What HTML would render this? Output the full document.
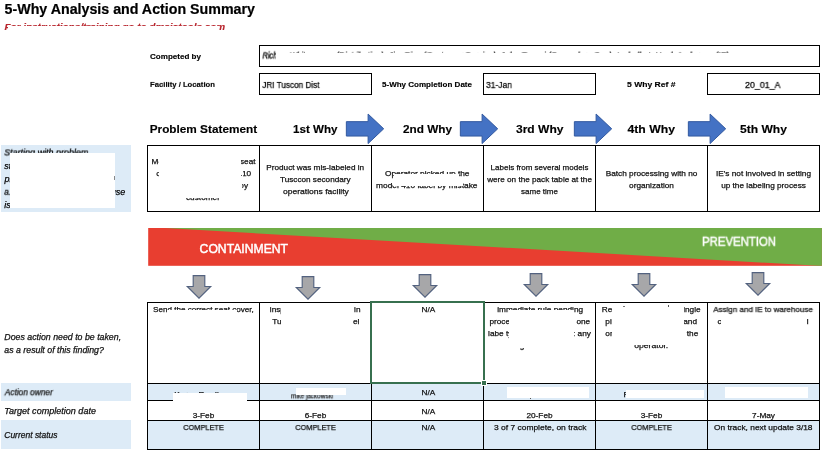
<!DOCTYPE html>
<html><head><meta charset="utf-8"><title>5-Why</title>
<style>
html,body{margin:0;padding:0;background:#fff;}
body{width:832px;height:459px;position:relative;overflow:hidden;font-family:"Liberation Sans",sans-serif;}
.t{position:absolute;white-space:nowrap;transform-origin:0 0;display:block;will-change:transform;}
.b{position:absolute;display:block;}
</style></head><body>
<span class="t" style="left:4px;top:2px;font-size:13.6px;line-height:13.6px;font-weight:bold;font-style:normal;color:#000;transform:translate(0.60px,0.27px) scale(1.0464,1.030);-webkit-text-stroke:0.2px #000;">5-Why Analysis and Action Summary</span>
<span class="t" style="left:4px;top:21px;font-size:9.5px;line-height:9.5px;font-weight:bold;font-style:italic;color:#B8262E;transform:translate(0.40px,0.50px) scale(1.0484,1.000);-webkit-text-stroke:0.15px #B8262E;">For instructions/training go to dmaictools.com</span>
<div class="b" style="left:8.00px;top:25.70px;width:211.00px;height:10.30px;background:#fff;"></div>
<span class="t" style="left:150px;top:53px;font-size:8px;line-height:8px;font-weight:bold;font-style:normal;color:#000;transform:translate(0.00px,0.30px) scale(1.0063,1.000);-webkit-text-stroke:0.15px #000;">Competed by</span>
<span class="t" style="left:150px;top:80px;font-size:7.7px;line-height:7.7px;font-weight:bold;font-style:normal;color:#000;transform:translate(0.00px,0.96px) scale(0.9996,1.040);-webkit-text-stroke:0.15px #000;">Facility / Location</span>
<span class="t" style="left:382px;top:81px;font-size:8px;line-height:8px;font-weight:bold;font-style:normal;color:#000;transform:translate(0.00px,0.20px) scale(1.0022,1.000);-webkit-text-stroke:0.15px #000;">5-Why Completion Date</span>
<span class="t" style="left:627px;top:81px;font-size:8px;line-height:8px;font-weight:bold;font-style:normal;color:#000;transform:translate(0.00px,0.20px) scale(1.0692,1.000);-webkit-text-stroke:0.15px #000;">5 Why Ref #</span>
<div class="b" style="left:258.50px;top:45.00px;width:561.00px;height:21.50px;background:#fff;border:1px solid #000;box-sizing:border-box;"></div>
<span class="t" style="left:262px;top:51px;font-size:8.6px;line-height:8.6px;font-weight:normal;font-style:italic;color:#000;transform:translate(0.50px,0.50px) scale(0.8547,1.000);-webkit-text-stroke:0.35px #000;">Rich</span>
<span class="t" style="left:289px;top:51px;font-size:8.6px;line-height:8.6px;font-weight:normal;font-style:italic;color:#111;transform:translate(0.70px,0.50px) scale(0.8941,1.000);-webkit-text-stroke:0.25px #111;">White,</span>
<span class="t" style="left:336px;top:51px;font-size:8.6px;line-height:8.6px;font-weight:normal;font-style:italic;color:#111;transform:translate(0.00px,0.50px) scale(0.9816,1.000);-webkit-text-stroke:0.25px #111;">(Distribution), Jim Rios (Customer Service), John Tenaci (Secondary Ops), Isabella I, Hank Anderson (IE)</span>
<div class="b" style="left:275.50px;top:53.25px;width:524.50px;height:9.75px;background:#fff;"></div>
<div class="b" style="left:258.50px;top:72.50px;width:113.50px;height:22.00px;background:#fff;border:1px solid #000;box-sizing:border-box;"></div>
<div class="b" style="left:482.50px;top:72.50px;width:113.00px;height:22.00px;background:#fff;border:1px solid #000;box-sizing:border-box;"></div>
<div class="b" style="left:706.50px;top:72.50px;width:113.00px;height:22.00px;background:#fff;border:1px solid #000;box-sizing:border-box;"></div>
<span class="t" style="left:262px;top:80px;font-size:9.0px;line-height:9.0px;font-weight:normal;font-style:normal;color:#000;transform:translate(0.30px,0.90px) scale(0.9079,1.000);-webkit-text-stroke:0.25px #000;">JRI Tuscon Dist</span>
<span class="t" style="left:486px;top:80px;font-size:9.0px;line-height:9.0px;font-weight:normal;font-style:normal;color:#000;transform:translate(0.00px,0.90px) scale(0.9441,1.000);-webkit-text-stroke:0.25px #000;">31-Jan</span>
<span class="t" style="left:745px;top:80px;font-size:9.0px;line-height:9.0px;font-weight:normal;font-style:normal;color:#000;transform:translate(0.00px,0.90px) scale(0.9849,1.000);-webkit-text-stroke:0.25px #000;">20_01_A</span>
<span class="t" style="left:149px;top:123px;font-size:11.4px;line-height:11.4px;font-weight:bold;font-style:normal;color:#000;transform:translate(0.70px,0.60px) scale(1.0345,1.000);-webkit-text-stroke:0.15px #000;">Problem Statement</span>
<span class="t" style="left:293px;top:123px;font-size:11.4px;line-height:11.4px;font-weight:bold;font-style:normal;color:#000;transform:translate(0.00px,0.60px) scale(1.0179,1.000);-webkit-text-stroke:0.15px #000;">1st Why</span>
<span class="t" style="left:403px;top:123px;font-size:11.4px;line-height:11.4px;font-weight:bold;font-style:normal;color:#000;transform:translate(0.00px,0.60px) scale(1.0320,1.000);-webkit-text-stroke:0.15px #000;">2nd Why</span>
<span class="t" style="left:516px;top:123px;font-size:11.4px;line-height:11.4px;font-weight:bold;font-style:normal;color:#000;transform:translate(0.00px,0.60px) scale(1.0562,1.000);-webkit-text-stroke:0.15px #000;">3rd Why</span>
<span class="t" style="left:627px;top:123px;font-size:11.4px;line-height:11.4px;font-weight:bold;font-style:normal;color:#000;transform:translate(0.50px,0.60px) scale(1.0711,1.000);-webkit-text-stroke:0.15px #000;">4th Why</span>
<span class="t" style="left:740px;top:123px;font-size:11.4px;line-height:11.4px;font-weight:bold;font-style:normal;color:#000;transform:translate(0.00px,0.60px) scale(1.0598,1.000);-webkit-text-stroke:0.15px #000;">5th Why</span>
<svg class="b" style="left:345px;top:112px" width="40" height="34" viewBox="-1 -1.75 40 34"><path d="M0.35 7.9 H22.1 V0.3 L37.7 15.05 L22.1 29.8 V22.3 H0.35 Z" fill="#4472C4" stroke="#3259A0" stroke-width="1" stroke-linejoin="miter"/></svg>
<svg class="b" style="left:459px;top:112px" width="40" height="34" viewBox="-1 -1.75 40 34"><path d="M0.35 7.9 H22.1 V0.3 L37.7 15.05 L22.1 29.8 V22.3 H0.35 Z" fill="#4472C4" stroke="#3259A0" stroke-width="1" stroke-linejoin="miter"/></svg>
<svg class="b" style="left:573px;top:112px" width="40" height="34" viewBox="-1 -1.75 40 34"><path d="M0.35 7.9 H22.1 V0.3 L37.7 15.05 L22.1 29.8 V22.3 H0.35 Z" fill="#4472C4" stroke="#3259A0" stroke-width="1" stroke-linejoin="miter"/></svg>
<svg class="b" style="left:687px;top:112px" width="40" height="34" viewBox="-1 -1.75 40 34"><path d="M0.35 7.9 H22.1 V0.3 L37.7 15.05 L22.1 29.8 V22.3 H0.35 Z" fill="#4472C4" stroke="#3259A0" stroke-width="1" stroke-linejoin="miter"/></svg>
<div class="b" style="left:1.30px;top:145.00px;width:129.60px;height:66.50px;background:#DDEBF7;"></div>
<span class="t" style="left:4px;top:148px;font-size:9.0px;line-height:9.0px;font-weight:normal;font-style:italic;color:#000;transform:translate(0.20px,0.40px) scale(0.9946,1.000);-webkit-text-stroke:0.25px #000;">Starting with problem</span>
<span class="t" style="left:4px;top:161px;font-size:9.0px;line-height:9.0px;font-weight:normal;font-style:italic;color:#000;transform:translate(0.20px,0.50px) scale(1.0000,1.000);-webkit-text-stroke:0.25px #000;">statement</span>
<span class="t" style="left:4px;top:174px;font-size:9.0px;line-height:9.0px;font-weight:normal;font-style:italic;color:#000;transform:translate(0.42px,0.60px) scale(1.0000,1.000);-webkit-text-stroke:0.25px #000;">problem</span>
<span class="t" style="left:4px;top:187px;font-size:9.0px;line-height:9.0px;font-weight:normal;font-style:italic;color:#000;transform:translate(0.20px,0.70px) scale(0.9000,1.000);-webkit-text-stroke:0.25px #000;">a.</span>
<span class="t" style="left:101px;top:187px;font-size:9.0px;line-height:9.0px;font-weight:normal;font-style:italic;color:#000;transform:translate(0.27px,0.70px) scale(1.0000,1.000);-webkit-text-stroke:0.25px #000;">cause</span>
<span class="t" style="left:4px;top:200px;font-size:9.0px;line-height:9.0px;font-weight:normal;font-style:italic;color:#000;transform:translate(0.20px,0.80px) scale(1.0000,1.000);-webkit-text-stroke:0.25px #000;">is</span>
<div class="b" style="left:10.10px;top:152.60px;width:104.70px;height:55.50px;background:#fff;"></div>
<div class="b" style="left:114.30px;top:176.40px;width:0.70px;height:3.80px;background:#888;"></div>
<span class="t" style="left:151px;top:157px;font-size:8.0px;line-height:8.0px;font-weight:normal;font-style:normal;color:#111;transform:translate(0.60px,0.80px) scale(1.0300,1.000);-webkit-text-stroke:0.25px #111;">Model</span>
<span class="t" style="left:239px;top:157px;font-size:8.0px;line-height:8.0px;font-weight:normal;font-style:normal;color:#111;transform:translate(0.93px,0.80px) scale(1.0300,1.000);-webkit-text-stroke:0.25px #111;">seat</span>
<span class="t" style="left:156px;top:169px;font-size:8.0px;line-height:8.0px;font-weight:normal;font-style:normal;color:#111;transform:translate(0.30px,0.80px) scale(1.0300,1.000);-webkit-text-stroke:0.25px #111;">c</span>
<span class="t" style="left:237px;top:169px;font-size:8.0px;line-height:8.0px;font-weight:normal;font-style:normal;color:#111;transform:translate(0.34px,0.80px) scale(1.0300,1.000);-webkit-text-stroke:0.25px #111;">410</span>
<span class="t" style="left:239px;top:181px;font-size:8.0px;line-height:8.0px;font-weight:normal;font-style:normal;color:#111;transform:translate(0.31px,0.80px) scale(1.0300,1.000);-webkit-text-stroke:0.25px #111;">by</span>
<span class="t" style="left:186px;top:193px;font-size:8.0px;line-height:8.0px;font-weight:normal;font-style:normal;color:#111;transform:translate(0.00px,0.80px) scale(1.0310,1.000);-webkit-text-stroke:0.25px #111;">customer</span>
<div class="b" style="left:158.60px;top:150.00px;width:82.40px;height:48.00px;background:#fff;"></div>
<div class="b" style="left:241.00px;top:181.00px;width:1.30px;height:11.00px;background:#fff;"></div>
<div class="b" style="left:241.00px;top:169.00px;width:1.60px;height:10.00px;background:#fff;"></div>
<div class="b" style="left:241.30px;top:174.60px;width:0.80px;height:1.00px;background:#555;"></div>
<span class="t" style="left:266px;top:163px;font-size:8.0px;line-height:8.0px;font-weight:normal;font-style:normal;color:#111;transform:translate(0.30px,0.80px) scale(1.0230,1.000);-webkit-text-stroke:0.25px #111;">Product was mis-labeled in</span>
<span class="t" style="left:280px;top:175px;font-size:8.0px;line-height:8.0px;font-weight:normal;font-style:normal;color:#111;transform:translate(0.00px,0.80px) scale(1.0220,1.000);-webkit-text-stroke:0.25px #111;">Tusccon secondary</span>
<span class="t" style="left:283px;top:187px;font-size:8.0px;line-height:8.0px;font-weight:normal;font-style:normal;color:#111;transform:translate(0.10px,0.80px) scale(1.0631,1.000);-webkit-text-stroke:0.25px #111;">operations facility</span>
<span class="t" style="left:385px;top:169px;font-size:8.0px;line-height:8.0px;font-weight:normal;font-style:normal;color:#111;transform:translate(0.00px,0.80px) scale(1.0381,1.000);-webkit-text-stroke:0.25px #111;">Operator picked up the</span>
<span class="t" style="left:376px;top:181px;font-size:8.0px;line-height:8.0px;font-weight:normal;font-style:normal;color:#111;transform:translate(0.00px,0.80px) scale(1.0468,1.000);-webkit-text-stroke:0.25px #111;">model 410 label by mistake</span>
<div class="b" style="left:394.40px;top:174.00px;width:64.60px;height:6.00px;background:#fff;"></div>
<div class="b" style="left:392.90px;top:179.90px;width:70.10px;height:5.70px;background:#fff;"></div>
<span class="t" style="left:490px;top:163px;font-size:8.0px;line-height:8.0px;font-weight:normal;font-style:normal;color:#111;transform:translate(0.58px,0.80px) scale(1.0000,1.000);-webkit-text-stroke:0.25px #111;">Labels from several models</span>
<span class="t" style="left:487px;top:175px;font-size:8.0px;line-height:8.0px;font-weight:normal;font-style:normal;color:#111;transform:translate(0.13px,0.80px) scale(1.0200,1.000);-webkit-text-stroke:0.25px #111;">were on the pack table at the</span>
<span class="t" style="left:521px;top:187px;font-size:8.0px;line-height:8.0px;font-weight:normal;font-style:normal;color:#111;transform:translate(0.06px,0.80px) scale(1.0000,1.000);-webkit-text-stroke:0.25px #111;">same time</span>
<span class="t" style="left:605px;top:169px;font-size:8.0px;line-height:8.0px;font-weight:normal;font-style:normal;color:#111;transform:translate(0.71px,0.80px) scale(1.0300,1.000);-webkit-text-stroke:0.25px #111;">Batch processing with no</span>
<span class="t" style="left:629px;top:181px;font-size:8.0px;line-height:8.0px;font-weight:normal;font-style:normal;color:#111;transform:translate(0.05px,0.80px) scale(1.0300,1.000);-webkit-text-stroke:0.25px #111;">organization</span>
<span class="t" style="left:715px;top:169px;font-size:8.0px;line-height:8.0px;font-weight:normal;font-style:normal;color:#111;transform:translate(1.00px,0.80px) scale(1.0300,1.000);-webkit-text-stroke:0.25px #111;">IE's not involved in setting</span>
<span class="t" style="left:721px;top:181px;font-size:8.0px;line-height:8.0px;font-weight:normal;font-style:normal;color:#111;transform:translate(0.13px,0.80px) scale(1.0300,1.000);-webkit-text-stroke:0.25px #111;">up the labeling process</span>
<div class="b" style="left:147.00px;top:145.10px;width:673.00px;height:66.70px;border:1px solid #000;box-sizing:border-box;"></div>
<div class="b" style="left:259.00px;top:145.60px;width:1.00px;height:65.70px;background:#000;"></div>
<div class="b" style="left:371.00px;top:145.60px;width:1.00px;height:65.70px;background:#000;"></div>
<div class="b" style="left:483.00px;top:145.60px;width:1.00px;height:65.70px;background:#000;"></div>
<div class="b" style="left:595.00px;top:145.60px;width:1.00px;height:65.70px;background:#000;"></div>
<div class="b" style="left:707.00px;top:145.60px;width:1.00px;height:65.70px;background:#000;"></div>
<svg class="b" style="left:148px;top:228px" width="674" height="38" viewBox="0 0 674 38"><rect x="0.2" width="673.7" height="37.8" fill="#E83E30"/><path d="M17 0 H673.9 V37.8 H670 Z" fill="#70AD47"/></svg>
<span class="t" style="left:199px;top:242px;font-size:12.0px;line-height:12.0px;font-weight:normal;font-style:normal;color:#fff;transform:translate(0.60px,0.70px) scale(1.0147,1.000);-webkit-text-stroke:0.45px #fff;">CONTAINMENT</span>
<span class="t" style="left:702px;top:235px;font-size:12.0px;line-height:12.0px;font-weight:normal;font-style:normal;color:#fff;transform:translate(0.00px,0.80px) scale(0.9487,1.000);-webkit-text-stroke:0.45px #fff;">PREVENTION</span>
<svg class="b" style="left:185.40px;top:274.00px" width="28" height="26" viewBox="-14 -1 28 26"><path d="M-5.8 0.55 H5.8 V11.5 H11.7 L0 23.1 L-11.7 11.5 H-5.8 Z" fill="#A7A7A9" stroke="#53627F" stroke-width="1.15" stroke-linejoin="miter"/></svg>
<svg class="b" style="left:294.00px;top:274.70px" width="28" height="26" viewBox="-14 -1 28 26"><path d="M-5.8 0.55 H5.8 V11.5 H11.7 L0 23.1 L-11.7 11.5 H-5.8 Z" fill="#A7A7A9" stroke="#53627F" stroke-width="1.15" stroke-linejoin="miter"/></svg>
<svg class="b" style="left:410.60px;top:273.00px" width="28" height="26" viewBox="-14 -1 28 26"><path d="M-5.8 0.55 H5.8 V11.5 H11.7 L0 23.1 L-11.7 11.5 H-5.8 Z" fill="#A7A7A9" stroke="#53627F" stroke-width="1.15" stroke-linejoin="miter"/></svg>
<svg class="b" style="left:522.00px;top:272.00px" width="28" height="26" viewBox="-14 -1 28 26"><path d="M-5.8 0.55 H5.8 V11.5 H11.7 L0 23.1 L-11.7 11.5 H-5.8 Z" fill="#A7A7A9" stroke="#53627F" stroke-width="1.15" stroke-linejoin="miter"/></svg>
<svg class="b" style="left:630.00px;top:272.00px" width="28" height="26" viewBox="-14 -1 28 26"><path d="M-5.8 0.55 H5.8 V11.5 H11.7 L0 23.1 L-11.7 11.5 H-5.8 Z" fill="#A7A7A9" stroke="#53627F" stroke-width="1.15" stroke-linejoin="miter"/></svg>
<svg class="b" style="left:744.00px;top:271.00px" width="28" height="26" viewBox="-14 -1 28 26"><path d="M-5.8 0.55 H5.8 V11.5 H11.7 L0 23.1 L-11.7 11.5 H-5.8 Z" fill="#A7A7A9" stroke="#53627F" stroke-width="1.15" stroke-linejoin="miter"/></svg>
<div class="b" style="left:147.50px;top:383.30px;width:672.00px;height:16.90px;background:#DDEBF7;"></div>
<div class="b" style="left:147.50px;top:420.20px;width:672.00px;height:28.90px;background:#DDEBF7;"></div>
<div class="b" style="left:1.30px;top:383.30px;width:129.70px;height:17.50px;background:#DDEBF7;"></div>
<div class="b" style="left:1.30px;top:420.20px;width:129.70px;height:29.20px;background:#DDEBF7;"></div>
<span class="t" style="left:4px;top:332px;font-size:8.3px;line-height:8.3px;font-weight:normal;font-style:italic;color:#111;transform:translate(0.30px,0.80px) scale(1.0593,1.000);-webkit-text-stroke:0.25px #111;">Does action need to be taken,</span>
<span class="t" style="left:4px;top:345px;font-size:8.3px;line-height:8.3px;font-weight:normal;font-style:italic;color:#111;transform:translate(0.30px,0.80px) scale(1.0582,1.000);-webkit-text-stroke:0.25px #111;">as a result of this finding?</span>
<span class="t" style="left:4px;top:388px;font-size:8.3px;line-height:8.3px;font-weight:normal;font-style:italic;color:#111;transform:translate(0.71px,0.20px) scale(0.9996,1.000);-webkit-text-stroke:0.25px #111;">Action owner</span>
<span class="t" style="left:4px;top:407px;font-size:8.3px;line-height:8.3px;font-weight:normal;font-style:italic;color:#111;transform:translate(0.30px,0.00px) scale(1.0901,1.000);-webkit-text-stroke:0.25px #111;">Target completion date</span>
<span class="t" style="left:4px;top:430px;font-size:8.3px;line-height:8.3px;font-weight:normal;font-style:italic;color:#111;transform:translate(0.30px,0.90px) scale(1.0206,1.000);-webkit-text-stroke:0.25px #111;">Current status</span>
<span class="t" style="left:153px;top:305px;font-size:8.0px;line-height:8.0px;font-weight:normal;font-style:normal;color:#111;transform:translate(0.00px,0.90px) scale(1.0115,1.000);-webkit-text-stroke:0.25px #111;">Send the correct seat cover,</span>
<div class="b" style="left:167.00px;top:309.70px;width:70.00px;height:6.30px;background:#fff;"></div>
<span class="t" style="left:269px;top:305px;font-size:8.0px;line-height:8.0px;font-weight:normal;font-style:normal;color:#111;transform:translate(0.80px,0.90px) scale(1.0300,1.000);-webkit-text-stroke:0.25px #111;">inspect</span>
<span class="t" style="left:354px;top:305px;font-size:8.0px;line-height:8.0px;font-weight:normal;font-style:normal;color:#111;transform:translate(0.07px,0.90px) scale(1.0300,1.000);-webkit-text-stroke:0.25px #111;">in</span>
<span class="t" style="left:272px;top:317px;font-size:8.0px;line-height:8.0px;font-weight:normal;font-style:normal;color:#111;transform:translate(0.20px,0.80px) scale(1.0300,1.000);-webkit-text-stroke:0.25px #111;">Tus</span>
<span class="t" style="left:352px;top:317px;font-size:8.0px;line-height:8.0px;font-weight:normal;font-style:normal;color:#111;transform:translate(0.97px,0.80px) scale(1.0300,1.000);-webkit-text-stroke:0.25px #111;">el</span>
<span class="t" style="left:293px;top:306px;font-size:8.0px;line-height:8.0px;font-weight:normal;font-style:normal;color:#666;transform:translate(0.00px,0.50px) scale(0.8432,1.000);-webkit-text-stroke:0.25px #666;">100% of stock held</span>
<div class="b" style="left:281.20px;top:306.90px;width:72.20px;height:23.10px;background:#fff;"></div>
<div class="b" style="left:281.20px;top:304.00px;width:10.80px;height:5.00px;background:#fff;"></div>
<span class="t" style="left:421px;top:306px;font-size:8.0px;line-height:8.0px;font-weight:normal;font-style:normal;color:#111;transform:translate(0.47px,0.00px) scale(1.0300,1.000);-webkit-text-stroke:0.25px #111;">N/A</span>
<span class="t" style="left:421px;top:389px;font-size:8.0px;line-height:8.0px;font-weight:normal;font-style:normal;color:#111;transform:translate(0.47px,0.00px) scale(1.0300,1.000);-webkit-text-stroke:0.25px #111;">N/A</span>
<span class="t" style="left:421px;top:408px;font-size:8.0px;line-height:8.0px;font-weight:normal;font-style:normal;color:#111;transform:translate(0.47px,0.10px) scale(1.0300,1.000);-webkit-text-stroke:0.25px #111;">N/A</span>
<span class="t" style="left:421px;top:424px;font-size:8.0px;line-height:8.0px;font-weight:normal;font-style:normal;color:#111;transform:translate(0.47px,0.20px) scale(1.0300,1.000);-webkit-text-stroke:0.25px #111;">N/A</span>
<span class="t" style="left:497px;top:305px;font-size:8.0px;line-height:8.0px;font-weight:normal;font-style:normal;color:#111;transform:translate(0.20px,0.90px) scale(1.0329,1.000);-webkit-text-stroke:0.25px #111;">immediate rule pending</span>
<span class="t" style="left:489px;top:317px;font-size:8.0px;line-height:8.0px;font-weight:normal;font-style:normal;color:#111;transform:translate(0.40px,0.80px) scale(1.0300,1.000);-webkit-text-stroke:0.25px #111;">process</span>
<span class="t" style="left:576px;top:317px;font-size:8.0px;line-height:8.0px;font-weight:normal;font-style:normal;color:#111;transform:translate(0.44px,0.80px) scale(1.0300,1.000);-webkit-text-stroke:0.25px #111;">one</span>
<span class="t" style="left:488px;top:329px;font-size:8.0px;line-height:8.0px;font-weight:normal;font-style:normal;color:#111;transform:translate(0.10px,0.70px) scale(1.0300,1.000);-webkit-text-stroke:0.25px #111;">labe type</span>
<span class="t" style="left:573px;top:329px;font-size:8.0px;line-height:8.0px;font-weight:normal;font-style:normal;color:#111;transform:translate(0.02px,0.70px) scale(1.0300,1.000);-webkit-text-stroke:0.25px #111;">: any</span>
<span class="t" style="left:519px;top:341px;font-size:8.0px;line-height:8.0px;font-weight:normal;font-style:normal;color:#111;transform:translate(0.80px,0.90px) scale(1.0300,1.000);-webkit-text-stroke:0.25px #111;">g</span>
<div class="b" style="left:509.20px;top:309.70px;width:64.40px;height:37.90px;background:#fff;"></div>
<span class="t" style="left:601px;top:305px;font-size:8.0px;line-height:8.0px;font-weight:normal;font-style:normal;color:#111;transform:translate(0.70px,0.90px) scale(1.0300,1.000);-webkit-text-stroke:0.25px #111;">Require</span>
<span class="t" style="left:679px;top:305px;font-size:8.0px;line-height:8.0px;font-weight:normal;font-style:normal;color:#111;transform:translate(0.05px,0.90px) scale(1.0300,1.000);-webkit-text-stroke:0.25px #111;">single</span>
<span class="t" style="left:605px;top:317px;font-size:8.0px;line-height:8.0px;font-weight:normal;font-style:normal;color:#111;transform:translate(0.30px,0.80px) scale(1.0300,1.000);-webkit-text-stroke:0.25px #111;">pi</span>
<span class="t" style="left:683px;top:317px;font-size:8.0px;line-height:8.0px;font-weight:normal;font-style:normal;color:#111;transform:translate(0.24px,0.80px) scale(1.0300,1.000);-webkit-text-stroke:0.25px #111;">and</span>
<span class="t" style="left:605px;top:329px;font-size:8.0px;line-height:8.0px;font-weight:normal;font-style:normal;color:#111;transform:translate(0.30px,0.70px) scale(1.0300,1.000);-webkit-text-stroke:0.25px #111;">on</span>
<span class="t" style="left:682px;top:329px;font-size:8.0px;line-height:8.0px;font-weight:normal;font-style:normal;color:#111;transform:translate(0.22px,0.70px) scale(1.0300,1.000);-webkit-text-stroke:0.25px #111;">. the</span>
<span class="t" style="left:634px;top:341px;font-size:8.0px;line-height:8.0px;font-weight:normal;font-style:normal;color:#111;transform:translate(0.20px,0.60px) scale(1.0789,1.000);-webkit-text-stroke:0.25px #111;">operator.</span>
<div class="b" style="left:612.30px;top:304.00px;width:71.60px;height:41.30px;background:#fff;"></div>
<div class="b" style="left:668.00px;top:305.40px;width:1.00px;height:1.20px;background:#555;"></div>
<div class="b" style="left:623.00px;top:305.60px;width:1.60px;height:0.80px;background:#777;"></div>
<span class="t" style="left:713px;top:305px;font-size:8.0px;line-height:8.0px;font-weight:normal;font-style:normal;color:#111;transform:translate(0.30px,0.90px) scale(0.9990,1.000);-webkit-text-stroke:0.25px #111;">Assign and IE to warehouse</span>
<span class="t" style="left:717px;top:317px;font-size:8.0px;line-height:8.0px;font-weight:normal;font-style:normal;color:#111;transform:translate(0.50px,0.80px) scale(1.0300,1.000);-webkit-text-stroke:0.25px #111;">c</span>
<span class="t" style="left:804px;top:317px;font-size:8.0px;line-height:8.0px;font-weight:normal;font-style:normal;color:#111;transform:translate(0.03px,0.80px) scale(1.0300,1.000);-webkit-text-stroke:0.25px #111;">d</span>
<div class="b" style="left:721.00px;top:315.00px;width:85.70px;height:13.00px;background:#fff;"></div>
<span class="t" style="left:174px;top:391px;font-size:8.0px;line-height:8.0px;font-weight:normal;font-style:normal;color:#111;transform:translate(0.30px,0.30px) scale(1.0300,1.000);-webkit-text-stroke:0.25px #111;">Karen Rawlins</span>
<span class="t" style="left:291px;top:393px;font-size:6.5px;line-height:6.5px;font-weight:normal;font-style:normal;color:#333;transform:translate(0.00px,0.30px) scale(0.9687,1.000);-webkit-text-stroke:0.25px #333;">mike jackowski</span>
<span class="t" style="left:623px;top:391px;font-size:8.0px;line-height:8.0px;font-weight:normal;font-style:normal;color:#111;transform:translate(0.60px,0.40px) scale(1.0300,1.000);-webkit-text-stroke:0.25px #111;">F</span>
<span class="t" style="left:192px;top:411px;font-size:8.0px;line-height:8.0px;font-weight:normal;font-style:normal;color:#111;transform:translate(0.75px,0.70px) scale(1.0300,1.000);-webkit-text-stroke:0.25px #111;">3-Feb</span>
<span class="t" style="left:304px;top:411px;font-size:8.0px;line-height:8.0px;font-weight:normal;font-style:normal;color:#111;transform:translate(0.75px,0.70px) scale(1.0300,1.000);-webkit-text-stroke:0.25px #111;">6-Feb</span>
<span class="t" style="left:526px;top:411px;font-size:8.0px;line-height:8.0px;font-weight:normal;font-style:normal;color:#111;transform:translate(0.44px,0.70px) scale(1.0300,1.000);-webkit-text-stroke:0.25px #111;">20-Feb</span>
<span class="t" style="left:640px;top:411px;font-size:8.0px;line-height:8.0px;font-weight:normal;font-style:normal;color:#111;transform:translate(0.75px,0.70px) scale(1.0300,1.000);-webkit-text-stroke:0.25px #111;">3-Feb</span>
<span class="t" style="left:752px;top:411px;font-size:8.0px;line-height:8.0px;font-weight:normal;font-style:normal;color:#111;transform:translate(0.05px,0.70px) scale(1.0300,1.000);-webkit-text-stroke:0.25px #111;">7-May</span>
<span class="t" style="left:183px;top:424px;font-size:8.0px;line-height:8.0px;font-weight:normal;font-style:normal;color:#111;transform:translate(0.26px,0.00px) scale(0.9200,1.000);-webkit-text-stroke:0.25px #111;">COMPLETE</span>
<span class="t" style="left:295px;top:424px;font-size:8.0px;line-height:8.0px;font-weight:normal;font-style:normal;color:#111;transform:translate(0.26px,0.00px) scale(0.9200,1.000);-webkit-text-stroke:0.25px #111;">COMPLETE</span>
<span class="t" style="left:631px;top:424px;font-size:8.0px;line-height:8.0px;font-weight:normal;font-style:normal;color:#111;transform:translate(0.26px,0.00px) scale(0.9200,1.000);-webkit-text-stroke:0.25px #111;">COMPLETE</span>
<span class="t" style="left:494px;top:424px;font-size:8.0px;line-height:8.0px;font-weight:normal;font-style:normal;color:#111;transform:translate(0.00px,0.00px) scale(1.0555,1.000);-webkit-text-stroke:0.25px #111;">3 of 7 complete, on track</span>
<span class="t" style="left:714px;top:424px;font-size:8.0px;line-height:8.0px;font-weight:normal;font-style:normal;color:#111;transform:translate(0.00px,0.00px) scale(1.0448,1.000);-webkit-text-stroke:0.25px #111;">On track, next update 3/18</span>
<div class="b" style="left:147.00px;top:302.10px;width:673.00px;height:147.50px;border:1px solid #000;box-sizing:border-box;"></div>
<div class="b" style="left:259.00px;top:302.60px;width:1.00px;height:146.50px;background:#000;"></div>
<div class="b" style="left:371.00px;top:302.60px;width:1.00px;height:146.50px;background:#000;"></div>
<div class="b" style="left:483.00px;top:302.60px;width:1.00px;height:146.50px;background:#000;"></div>
<div class="b" style="left:595.00px;top:302.60px;width:1.00px;height:146.50px;background:#000;"></div>
<div class="b" style="left:707.00px;top:302.60px;width:1.00px;height:146.50px;background:#000;"></div>
<div class="b" style="left:147.50px;top:382.80px;width:672.00px;height:1.00px;background:#000;"></div>
<div class="b" style="left:147.50px;top:399.70px;width:672.00px;height:1.00px;background:#000;"></div>
<div class="b" style="left:147.50px;top:419.70px;width:672.00px;height:1.00px;background:#000;"></div>
<div class="b" style="left:172.70px;top:393.20px;width:74.60px;height:12.80px;background:#fff;"></div>
<div class="b" style="left:296.40px;top:387.80px;width:49.20px;height:7.40px;background:#fff;"></div>
<div class="b" style="left:506.50px;top:387.00px;width:82.50px;height:11.00px;background:#fff;"></div>
<div class="b" style="left:530.30px;top:397.60px;width:1.00px;height:1.20px;background:#555;"></div>
<div class="b" style="left:626.00px;top:389.50px;width:78.00px;height:8.50px;background:#fff;"></div>
<div class="b" style="left:725.00px;top:387.00px;width:82.80px;height:11.00px;background:#fff;"></div>
<div class="b" style="left:370.00px;top:301.10px;width:115.40px;height:83.40px;border:2px solid #37704F;box-sizing:border-box;"></div>
<div class="b" style="left:480.60px;top:380.20px;width:6.10px;height:6.20px;background:#37704F;border:1px solid #fff;box-sizing:border-box;"></div>
</body></html>
